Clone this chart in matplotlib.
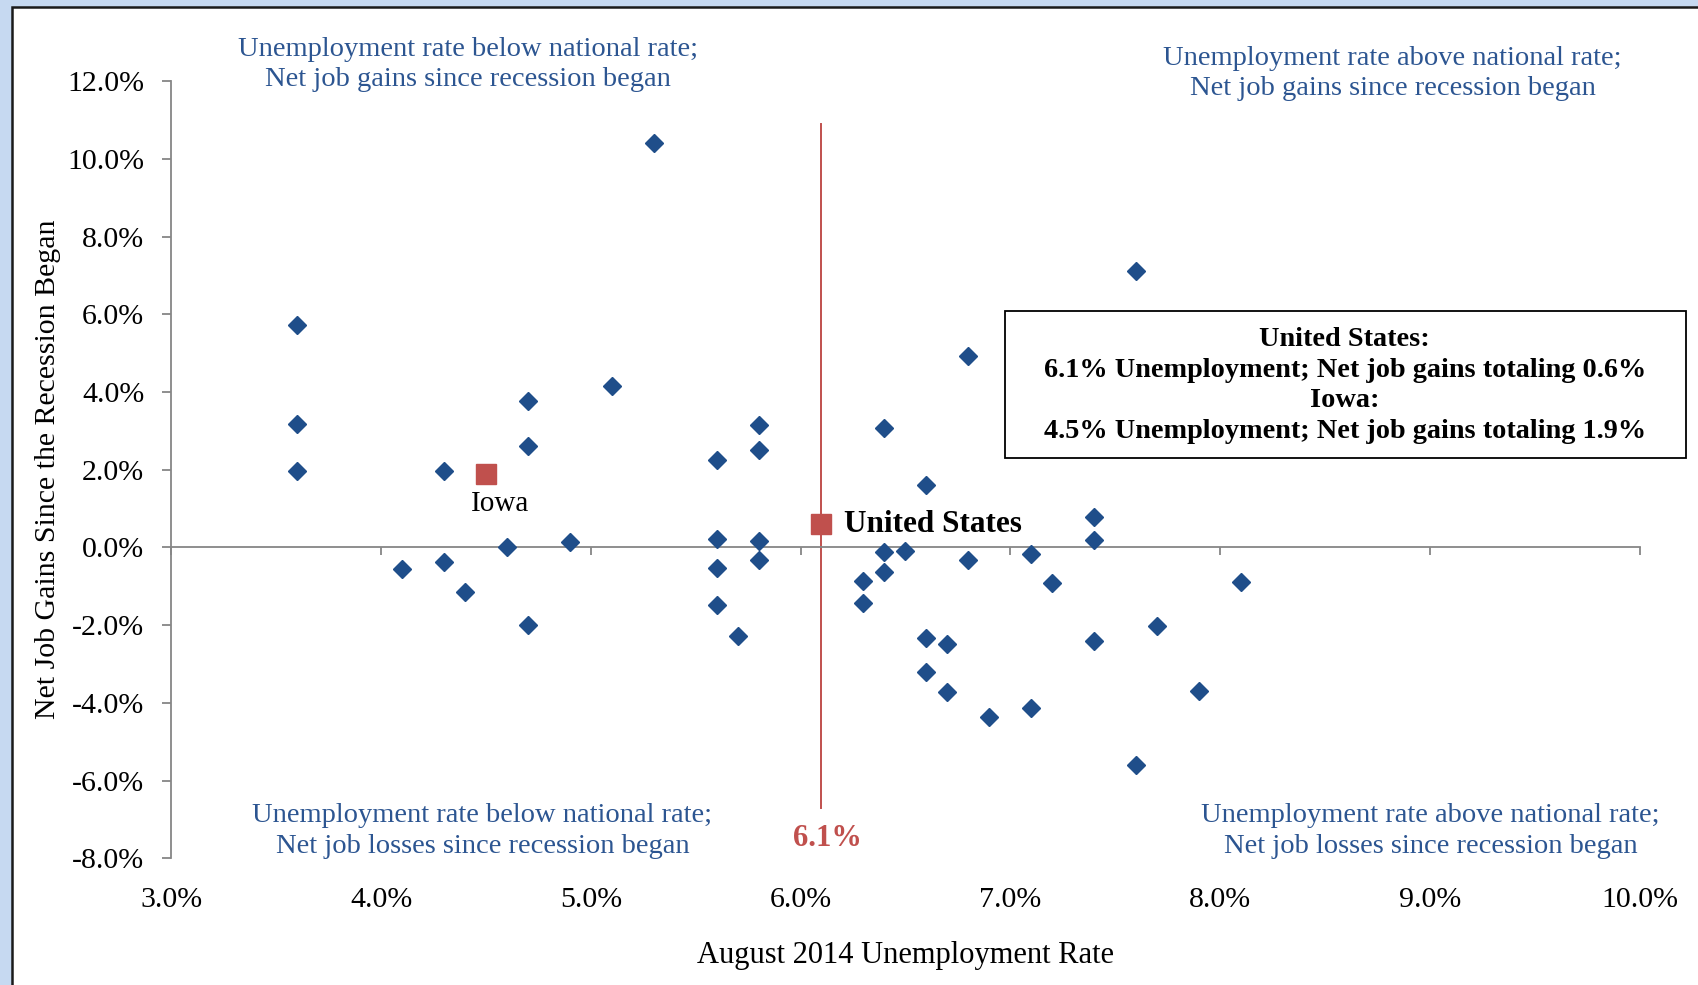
#importing useful libraries
import matplotlib.pyplot as plt
from matplotlib.patches import Rectangle
from matplotlib.ticker import FuncFormatter

#August 2014 unemployment rate (%) and net job gains since the recession began (%) by state
unemp = [3.6, 3.6, 3.6, 5.3, 4.1, 4.3, 4.3, 4.4, 4.7, 4.7,
         4.7, 4.6, 4.9, 5.1, 5.6, 5.6, 5.6, 5.6, 5.7, 5.8,
         5.8, 5.8, 5.8, 6.3, 6.3, 6.4, 6.4, 6.4, 6.5, 6.6,
         6.6, 6.6, 6.7, 6.7, 6.8, 6.8, 6.9, 7.1, 7.1, 7.2,
         7.4, 7.4, 7.4, 7.6, 7.6, 7.7, 7.9, 8.1]
job_gains = [5.73, 3.19, 1.96, 10.41, -0.56, 1.96, -0.37, -1.15, 3.77, 2.60,
             -1.99, 0.0, 0.14, 4.16, 2.24, 0.21, -0.52, -1.49, -2.28, 3.15,
             2.51, 0.17, -0.33, -0.86, -1.42, 3.07, -0.13, -0.64, -0.08, 1.60,
             -2.32, -3.21, -2.49, -3.72, 4.94, -0.33, -4.37, -0.16, -4.13, -0.92,
             0.78, 0.20, -2.42, 7.12, -5.60, -2.01, -3.70, -0.89]

#highlighted points
us_unemp = 6.1
us_gains = 0.6
iowa_unemp = 4.5
iowa_gains = 1.9

#national rate reference line (vertical) span
line_bottom = -6.7
line_top = 10.9

xticks = [3, 4, 5, 6, 7, 8, 9, 10]
yticks = [-8, -6, -4, -2, 0, 2, 4, 6, 8, 10, 12]

blue = '#1f4e8a'
red = '#c0504d'
text_blue = '#2c5591'
grey = '#868686'

plt.rcParams['font.family'] = ['Liberation Serif', 'DejaVu Serif']

fig = plt.figure(figsize=(16.99, 9.85), dpi=100, facecolor='#c6d9f1')
#white chart area with dark frame
fig.add_artist(Rectangle((12 / 1699, -0.01), 1.0, 1 - 7 / 985 + 0.01, transform=fig.transFigure,
                         facecolor='white', edgecolor='#1a1a1a', linewidth=1.8, zorder=-1))

ax = fig.add_axes([0.1008, 0.1287, 0.8642, 0.7888])
ax.set_facecolor('none')

ax.plot(unemp, job_gains, 'D', color=blue, markersize=9, zorder=3)
ax.plot([us_unemp, us_unemp], [line_bottom, line_top], color=red, linewidth=1.4, zorder=2)
ax.plot(us_unemp, us_gains, 's', color=red, markersize=15, zorder=4)
ax.plot(iowa_unemp, iowa_gains, 's', color=red, markersize=14.5, zorder=4)

ax.set_xlim(3, 10)
ax.set_ylim(-8, 12)

#spines: left axis plus horizontal axis through zero
ax.spines['top'].set_visible(False)
ax.spines['right'].set_visible(False)
ax.spines['left'].set_color(grey)
ax.spines['left'].set_linewidth(1.3)
ax.spines['bottom'].set_position(('data', 0))
ax.spines['bottom'].set_color(grey)
ax.spines['bottom'].set_linewidth(1.3)

pct = FuncFormatter(lambda v, p: '{:.1f}%'.format(v))
ax.set_yticks(yticks)
ax.yaxis.set_major_formatter(pct)
ax.tick_params(axis='y', direction='out', length=6.5, width=1.3, color=grey,
               labelsize=21.5, pad=13)
ax.set_xticks(xticks)
ax.tick_params(axis='x', direction='out', length=5.5, width=1.3, color=grey, labelbottom=False)

#x tick labels sit at the bottom of the plot area
sec = ax.secondary_xaxis('bottom')
sec.spines['bottom'].set_visible(False)
sec.set_xticks(xticks)
sec.xaxis.set_major_formatter(pct)
sec.tick_params(length=0, labelsize=21.5, pad=21)
sec.set_xlabel('August 2014 Unemployment Rate', fontsize=22, labelpad=20)

ax.set_ylabel('Net Job Gains Since the Recession Began', fontsize=21.5, labelpad=4.5)

#point labels
ax.annotate('United States', (us_unemp, us_gains), xytext=(16, 0), textcoords='offset points',
            ha='left', va='center', fontsize=22.5, fontweight='bold', color='black')
ax.annotate('Iowa', (iowa_unemp, iowa_gains), xytext=(10, -22), textcoords='offset points',
            ha='center', va='center', fontsize=21, color='black')
ax.annotate('6.1%', (us_unemp, line_bottom), xytext=(4, -22), textcoords='offset points',
            ha='center', va='center', fontsize=22, fontweight='bold', color=red)

#quadrant descriptions
ax.text(4.415, 12.44, 'Unemployment rate below national rate;\nNet job gains since recession began',
        ha='center', va='center', fontsize=20.5, color=text_blue, linespacing=1.27)
ax.text(8.822, 12.2, 'Unemployment rate above national rate;\nNet job gains since recession began',
        ha='center', va='center', fontsize=20.5, color=text_blue, linespacing=1.27)
ax.text(4.483, -7.3, 'Unemployment rate below national rate;\nNet job losses since recession began',
        ha='center', va='center', fontsize=20.5, color=text_blue, linespacing=1.27)
ax.text(9.003, -7.3, 'Unemployment rate above national rate;\nNet job losses since recession began',
        ha='center', va='center', fontsize=20.5, color=text_blue, linespacing=1.27)

#summary box
ax.add_patch(Rectangle((6.973, 2.29), 3.249, 3.8, facecolor='white', edgecolor='black',
                       linewidth=1.3, clip_on=False, zorder=5))
ax.text(8.595, 4.17, 'United States:\n6.1% Unemployment; Net job gains totaling 0.6%\n'
        'Iowa:\n4.5% Unemployment; Net job gains totaling 1.9%',
        ha='center', va='center', fontsize=20.3, fontweight='bold', color='black',
        linespacing=1.31, zorder=6)

fig.savefig('out.png', dpi=100, facecolor=fig.get_facecolor())
